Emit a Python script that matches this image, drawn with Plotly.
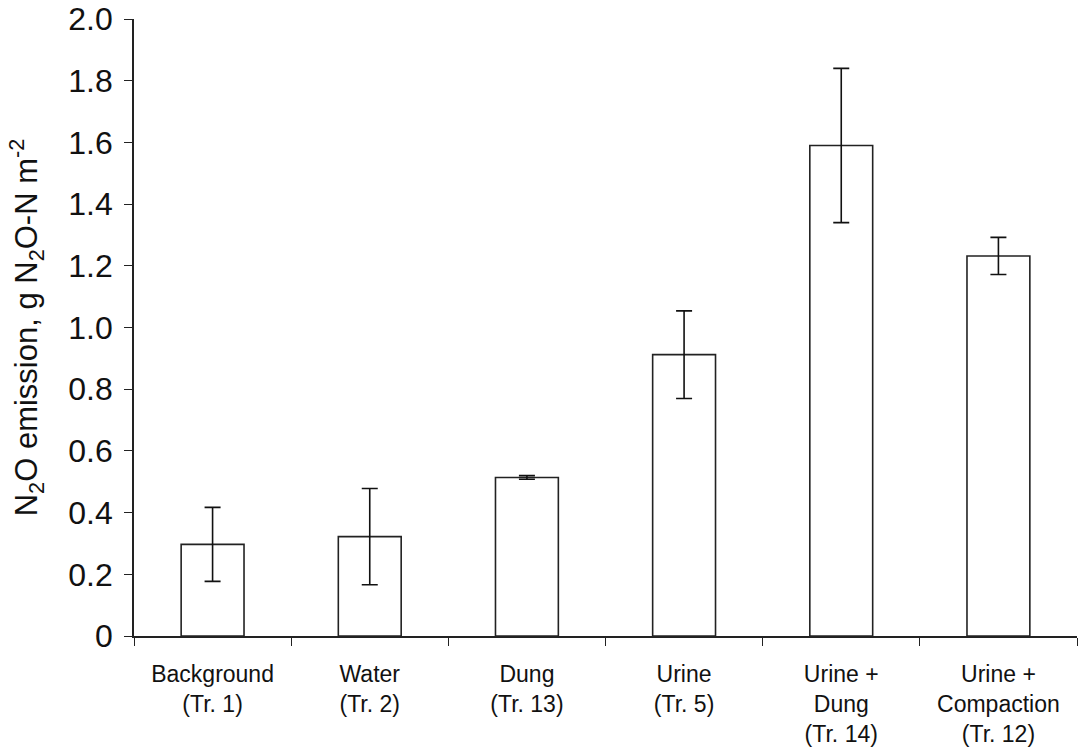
import plotly.graph_objects as go

categories = ["Background<br>(Tr. 1)", "Water<br>(Tr. 2)", "Dung<br>(Tr. 13)", "Urine<br>(Tr. 5)",
              "Urine +<br>Dung<br>(Tr. 14)", "Urine +<br>Compaction<br>(Tr. 12)"]
values = [0.297, 0.322, 0.514, 0.912, 1.59, 1.232]
errors = [0.12, 0.156, 0.006, 0.142, 0.25, 0.06]
y_ticks = [0, 0.2, 0.4, 0.6, 0.8, 1.0, 1.2, 1.4, 1.6, 1.8, 2.0]
y_tick_labels = ["0", "0.2", "0.4", "0.6", "0.8", "1.0", "1.2", "1.4", "1.6", "1.8", "2.0"]

fig = go.Figure(go.Bar(
    x=categories, y=values,
    marker=dict(color="white", line=dict(color="#222222", width=1.6)),
    error_y=dict(type="data", array=errors, visible=True, color="#111111", thickness=1.6, width=8),
))

fig.update_layout(
    width=1081, height=751,
    margin=dict(l=134, r=4, t=19, b=115),
    paper_bgcolor="white", plot_bgcolor="white",
    bargap=0.6, showlegend=False,
    font=dict(family="Liberation Sans, Arial, sans-serif", color="#111111"),
)
fig.update_xaxes(
    automargin=False,
    showline=True, linecolor="#222222", linewidth=1.6,
    ticks="outside", ticklen=8, tickwidth=1.4, tickcolor="#222222",
    tickson="boundaries", showgrid=False,
    ticklabelstandoff=17, ticklabeloverflow="allow",
    tickfont=dict(size=23),
)
fig.update_yaxes(
    automargin=False,
    range=[0, 2.0], tickvals=y_ticks, ticktext=y_tick_labels,
    showline=True, linecolor="#222222", linewidth=1.6,
    ticks="outside", ticklen=8, tickwidth=1.4, tickcolor="#222222",
    showgrid=False, zeroline=False,
    ticklabelstandoff=5, ticklabeloverflow="allow",
    tickfont=dict(size=32),
    title=dict(text="N<sub>2</sub>O emission, g N<sub>2</sub>O-N m<sup>-2</sup>",
               font=dict(size=31), standoff=21),
)

# remove the page's default 8px body margin so the figure fills the window exactly
fig.write_html("out.html", config={"displayModeBar": False},
               post_script="document.body.style.margin='0';")
